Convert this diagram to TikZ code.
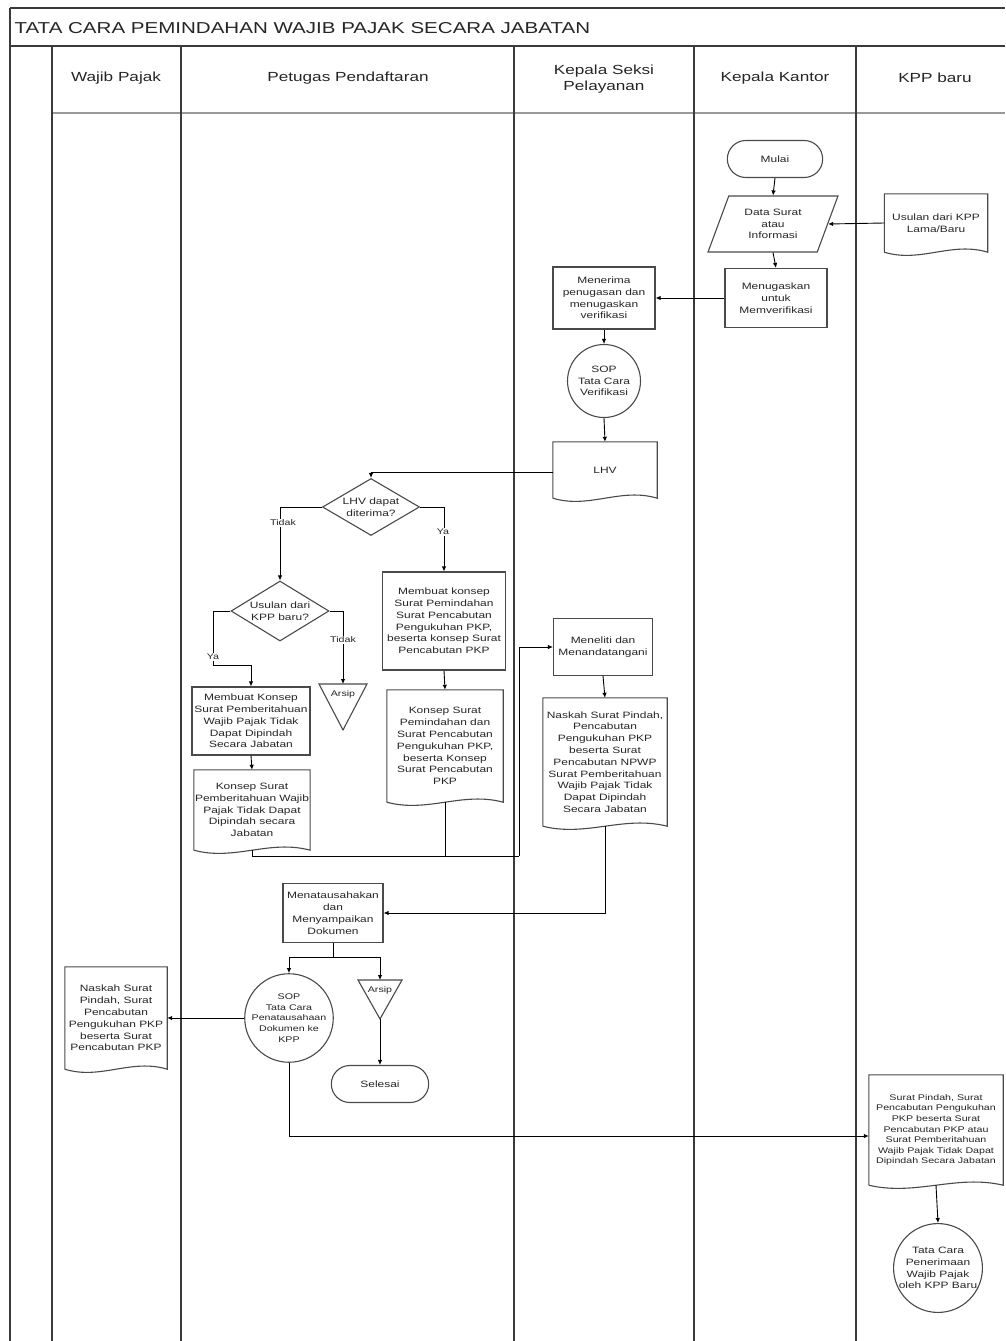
\documentclass[tikz,border=0pt]{standalone}
\usepackage{fontspec}
\setmainfont{Liberation Sans}[FakeStretch=1.3]
\usetikzlibrary{shapes.geometric,shapes.misc,calc,arrows.meta}
\definecolor{ln}{HTML}{3A3A3A}
\definecolor{sh}{HTML}{4A4A4A}
\definecolor{tx}{HTML}{262626}
\newcommand{\nodefnt}{\fontsize{9.2}{11.8}\selectfont}
\newcommand{\smallfnt}{\fontsize{8.2}{10.6}\selectfont}
\newcommand{\lblfnt}{\fontsize{8.2}{10}\selectfont}
\tikzset{
 lane/.style={draw=ln, line width=1.6pt},
 shapeline/.style={draw=sh, line width=1.1pt},
 box/.style={shapeline, rectangle, align=center, font=\nodefnt, text=tx, inner sep=1pt},
 term/.style={shapeline, rounded rectangle, align=center, font=\nodefnt, text=tx, minimum width=102pt, minimum height=37pt},
 sopc/.style={shapeline, circle, align=center, font=\nodefnt, text=tx, inner sep=0pt},
 dec/.style={shapeline, diamond, aspect=2, align=center, font=\nodefnt, text=tx, inner sep=0pt},
 para/.style={shapeline, trapezium, trapezium left angle=66, trapezium right angle=114, trapezium stretches=true, align=center, font=\nodefnt, text=tx, inner sep=0pt, minimum width=130pt, minimum height=56pt},
 docbody/.style={align=center, font=\nodefnt, text=tx, inner sep=1pt},
 arr/.style={draw=black, line width=0.9pt, -{Latex[length=5pt,width=4.5pt]}},
 con/.style={draw=black, line width=0.9pt},
 lbl/.style={font=\lblfnt, text=tx, fill=white, inner sep=1pt},
 hdr/.style={font=\fontsize{13.2}{15.5}\selectfont, text=tx, align=center},
 ttl/.style={font=\fontsize{15.8}{18}\selectfont, text=tx},
}
% #1 extra style, #2 name, #3 x, #4 y, #5 width, #6 height, #7 text
\newcommand{\docnode}[7][]{%
 \node[docbody, minimum width=#5pt, minimum height=#6pt, #1] (#2) at (#3,#4) {#7};
 \draw[shapeline] (#2.south west) -- (#2.north west) -- (#2.north east) -- (#2.south east)
   .. controls ($(#2.south east)!0.35!(#2.south west)+(0,-11)$) and ($(#2.south east)!0.65!(#2.south west)+(0,11)$) .. (#2.south west);
}
\begin{document}
\begin{tikzpicture}[x=1pt,y=-1pt]
\useasboundingbox (0,0) rectangle (1005,1341);
\fill[white] (0,0) rectangle (1005,1341);
% frame and lanes
\draw[lane] (10,8) -- (1005,8);
\draw[lane] (10,8) -- (10,1341);
\draw[lane] (10,46) -- (1005,46);
\draw[draw=gray!80, line width=2.6pt] (52,113) -- (1005,113);
\foreach \lx in {52,181,514,694,856} {\draw[lane] (\lx,46) -- (\lx,1341);}
\node[ttl, anchor=west] (title) at (11,28) {TATA CARA PEMINDAHAN WAJIB PAJAK SECARA JABATAN};
\node[hdr] (h1) at (116,78) {Wajib Pajak};
\node[hdr] (h2) at (348,78) {Petugas Pendaftaran};
\node[hdr] (h3) at (604,79) {Kepala Seksi\\Pelayanan};
\node[hdr] (h4) at (775,78) {Kepala Kantor};
\node[hdr] (h5) at (935,78) {KPP baru};
% nodes
\node[term] (mulai) at (775,159) {Mulai};
\node[para] (data) at (773,224) {Data Surat\\atau\\Informasi};
\docnode{usul}{936}{223}{103}{58}{Usulan dari KPP\\Lama/Baru}
\node[box, minimum width=102pt, minimum height=59pt] (tugas) at (776,298) {Menugaskan\\untuk\\Memverifikasi};
\node[box, minimum width=102pt, minimum height=62pt] (terima) at (604,298) {Menerima\\penugasan dan\\menugaskan\\verifikasi};
\node[sopc, minimum size=73pt] (sop1) at (604,381) {SOP\\Tata Cara\\Verifikasi};
\docnode{lhv}{605}{470}{104}{56}{LHV}
\node[dec, minimum width=97pt, minimum height=57pt] (dec1) at (371,507) {LHV dapat\\diterima?};
\node[box, minimum width=123pt, minimum height=98pt] (k1) at (444,621) {Membuat konsep\\Surat Pemindahan\\Surat Pencabutan\\Pengukuhan PKP,\\beserta konsep Surat\\Pencabutan PKP};
\node[dec, minimum width=98pt, minimum height=60pt] (dec2) at (280,611) {Usulan dari\\KPP baru?};
\node[box, minimum width=118pt, minimum height=68pt] (k2) at (251,721) {Membuat Konsep\\Surat Pemberitahuan\\Wajib Pajak Tidak\\Dapat Dipindah\\Secara Jabatan};
\draw[shapeline] (319,684) -- (367,684) -- (343,730) -- cycle;
\coordinate (ar1top) at (343,684);
\node[font=\smallfnt, text=tx] (ar1) at (343,694) {Arsip};
\docnode{dkl}{252}{810}{115}{80}{Konsep Surat\\Pemberitahuan Wajib\\Pajak Tidak Dapat\\Dipindah secara\\Jabatan}
\docnode{dkr}{445}{746}{116}{112}{Konsep Surat\\Pemindahan dan\\Surat Pencabutan\\Pengukuhan PKP,\\beserta Konsep\\Surat Pencabutan\\PKP}
\node[box, minimum width=99pt, minimum height=57pt] (teliti) at (603,647) {Meneliti dan\\Menandatangani};
\docnode{naskah}{605}{762}{124}{128}{Naskah Surat Pindah,\\Pencabutan\\Pengukuhan PKP\\beserta Surat\\Pencabutan NPWP\\Surat Pemberitahuan\\Wajib Pajak Tidak\\Dapat Dipindah\\Secara Jabatan}
\node[box, minimum width=100pt, minimum height=59pt] (tu) at (333,913) {Menatausahakan\\dan\\Menyampaikan\\Dokumen};
\node[sopc, minimum size=78pt, font=\smallfnt] (sop2) at (289,1018) {SOP\\Tata Cara\\Penatausahaan\\Dokumen ke\\KPP};
\draw[shapeline] (358,980) -- (402,980) -- (380,1019) -- cycle;
\coordinate (ar2top) at (380,980);
\coordinate (ar2tip) at (380,1019);
\node[font=\smallfnt, text=tx] (ar2) at (380,990) {Arsip};
\node[term, minimum width=104pt, minimum height=37pt] (selesai) at (380,1084) {Selesai};
\docnode{wpd}{116}{1018}{102}{102}{Naskah Surat\\Pindah, Surat\\Pencabutan\\Pengukuhan PKP\\beserta Surat\\Pencabutan PKP}
\docnode[font=\smallfnt]{kppd}{936}{1130}{134}{110}{Surat Pindah, Surat\\Pencabutan Pengukuhan\\PKP beserta Surat\\Pencabutan PKP atau\\Surat Pemberitahuan\\Wajib Pajak Tidak Dapat\\Dipindah Secara Jabatan}
\node[sopc, minimum size=83pt] (sop3) at (938,1268) {Tata Cara\\Penerimaan\\Wajib Pajak\\oleh KPP Baru};
% connectors
\draw[arr] (mulai.south) -- (data.north);
\draw[arr] (usul.west) -- (data.east);
\draw[arr] (data.south) -- (tugas.north);
\draw[arr] (tugas.west) -- (terima.east);
\draw[arr] (terima.south) -- (sop1.north);
\draw[arr] (sop1.south) -- (lhv.north);
\draw[arr] ([yshift=-2pt]lhv.west) -| (dec1.north);
\draw[arr] (dec1.west) -| (dec2.north);
\draw[arr] (dec1.east) -| (k1.north);
\draw[arr] (dec2.west) -- ++(-17,0) -- ++(0,54) -| (k2.north);
\draw[arr] (dec2.east) -| (ar1top);
\draw[arr] (k1.south) -- (dkr.north);
\draw[arr] (k2.south) -- (dkl.north);
\coordinate (j1) at (519,856);
\draw[con] (dkl.south) |- (j1);
\draw[con] (dkr.south) -- (dkr.south |- j1);
\draw[arr] (j1) |- (teliti.west);
\draw[arr] (teliti.south) -- (naskah.north);
\draw[arr] (naskah.south) |- (tu.east);
\path (tu.south) ++(0,14) coordinate (sp);
\draw[con] (tu.south) -- (sp);
\draw[arr] (sp) -| (sop2.north);
\draw[arr] (sp) -| (ar2top);
\draw[arr] (ar2tip) -- (selesai.north);
\draw[arr] (sop2.west) -- (wpd.east);
\draw[arr] (sop2.south) |- ([yshift=-6pt]kppd.west);
\draw[arr] (kppd.south) -- (sop3.north);
% labels
\node[lbl] (t1) at (283,523) {Tidak};
\node[lbl] (y1) at (443,532) {Ya};
\node[lbl] (y2) at (213,657) {Ya};
\node[lbl] (t2) at (343,640) {Tidak};
\end{tikzpicture}
\end{document}
